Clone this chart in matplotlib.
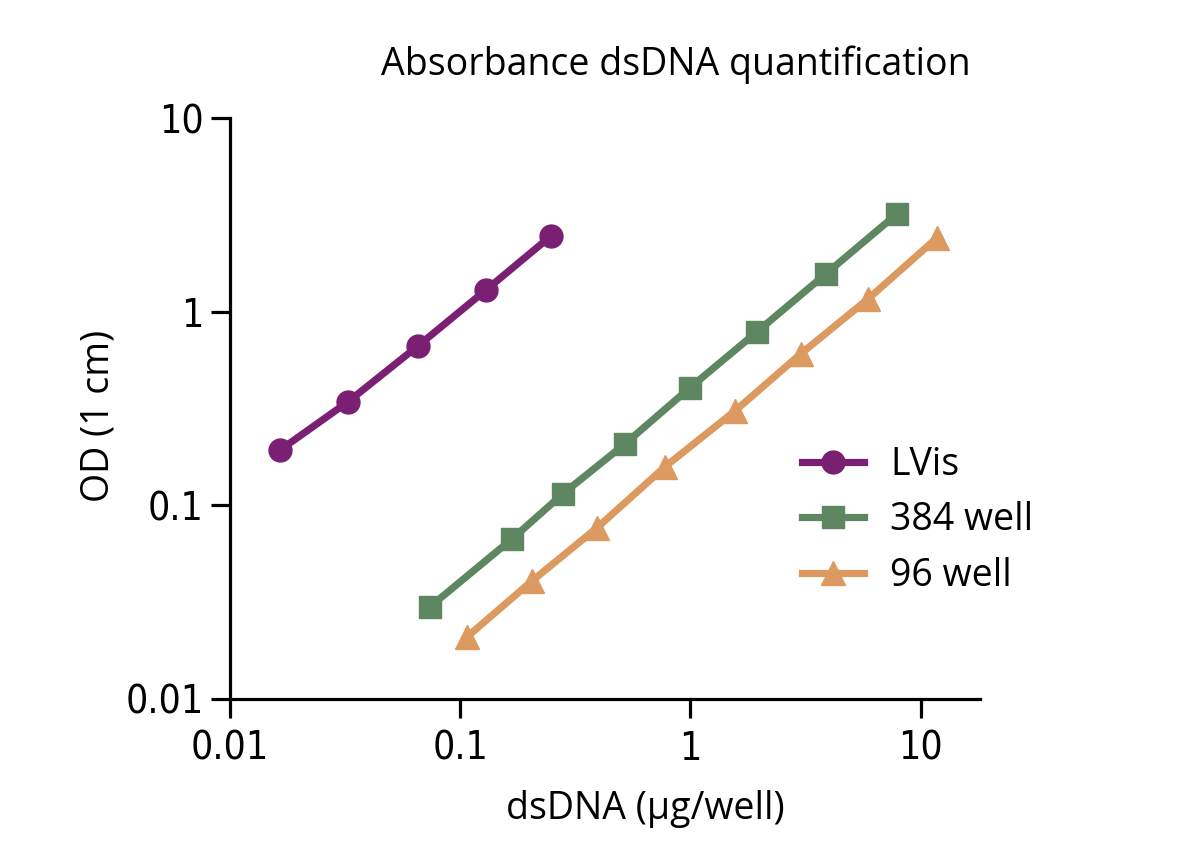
import matplotlib
matplotlib.use("Agg")
import matplotlib.pyplot as plt
from matplotlib.ticker import FixedLocator, NullLocator
import logging
logging.getLogger("matplotlib.font_manager").setLevel(logging.ERROR)

# Data
lvis_x = [0.0165, 0.0325, 0.0655, 0.129, 0.248]
lvis_y = [0.193, 0.342, 0.665, 1.29, 2.46]

w384_x = [0.0738, 0.168, 0.279, 0.519, 0.993, 1.94, 3.87, 7.87]
w384_y = [0.0299, 0.0671, 0.1146, 0.2075, 0.404, 0.785, 1.566, 3.19]

w96_x = [0.1069, 0.205, 0.392, 0.774, 1.56, 3.01, 5.89, 11.75]
w96_y = [0.0209, 0.0407, 0.0764, 0.158, 0.307, 0.605, 1.16, 2.40]

tick_vals = [0.01, 0.1, 1, 10]
tick_labels = ["0.01", "0.1", "1", "10"]

series_names = ["LVis", "384 well", "96 well"]
colors = ["#7A1F72", "#5E8661", "#DD9A60"]

fig = plt.figure(figsize=(12, 8.44), dpi=100)
ax = fig.add_axes([230/1200, 1-699/844, 750/1200, (699-118)/844])

ax.plot(lvis_x, lvis_y, color=colors[0], lw=5.2, marker="o", ms=16.5, label=series_names[0])
ax.plot(w384_x, w384_y, color=colors[1], lw=5.2, marker="s", ms=16, label=series_names[1])
ax.plot(w96_x, w96_y, color=colors[2], lw=5.2, marker="^", ms=17, label=series_names[2])

ax.set_xscale("log")
ax.set_yscale("log")
ax.set_xlim(0.01, 18.1)
ax.set_ylim(0.01, 10)
for s in ["top", "right"]:
    ax.spines[s].set_visible(False)
for s in ["left", "bottom"]:
    ax.spines[s].set_linewidth(2.3)
    ax.spines[s].set_capstyle("projecting")

ax.xaxis.set_major_locator(FixedLocator(tick_vals))
ax.yaxis.set_major_locator(FixedLocator(tick_vals))
ax.xaxis.set_minor_locator(NullLocator())
ax.yaxis.set_minor_locator(NullLocator())
tick_font = dict(family=["DejaVu Sans Condensed", "Liberation Sans Narrow", "DejaVu Sans"],
                 stretch="condensed", size=28)
ax.set_xticks(tick_vals)
ax.set_xticklabels(tick_labels, **tick_font)
ax.set_yticks(tick_vals)
ax.set_yticklabels(tick_labels, **tick_font)
ax.tick_params(axis="x", which="major", length=14, width=2.3, direction="out", pad=8)
ax.tick_params(axis="y", which="major", length=14, width=2.3, direction="out", pad=5)

label_font = dict(family=["Open Sans", "DejaVu Sans"], size=27)
ax.set_xlabel("dsDNA (µg/well)", **label_font)
ax.xaxis.set_label_coords((645-230)/750, -(790-699)/581)
ax.set_ylabel("OD (1 cm)", **label_font)
ax.yaxis.set_label_coords(-(230-118)/750, 0.5 - (415-408)/581)

fig.text(676/1200, 1-65/844, "Absorbance dsDNA quantification", ha="center", va="center",
         **label_font)

leg = ax.legend(loc="upper left", bbox_to_anchor=((783-230)/750, 1-(427-118)/581),
                frameon=False, prop=dict(family=["Open Sans", "DejaVu Sans"], size=27),
                handlelength=1.65, handletextpad=0.7, labelspacing=0.47, borderpad=0)

fig.savefig("out.png", dpi=100)
